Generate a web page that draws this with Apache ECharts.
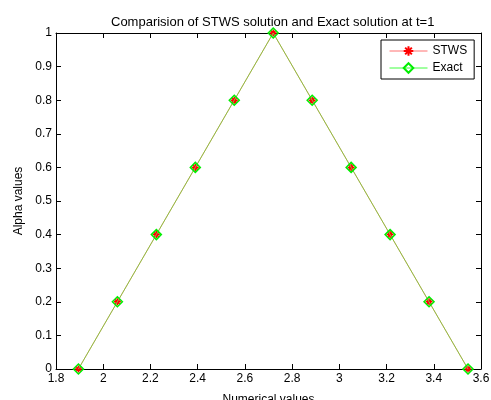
<!DOCTYPE html>
<html><head><meta charset="utf-8">
<script src="https://cdn.jsdelivr.net/npm/echarts@6/dist/echarts.min.js"></script>
<style>html,body{margin:0;padding:0;background:#fff}#c{width:491px;height:400px}</style>
</head><body><div id="c"></div>
<script>
const xValues = [1.895, 2.06, 2.225, 2.39, 2.555, 2.72, 2.885, 3.05, 3.215, 3.38, 3.545];
const stwsAlpha = [0, 0.2, 0.4, 0.6, 0.8, 1, 0.8, 0.6, 0.4, 0.2, 0];
const exactAlpha = [0, 0.2, 0.4, 0.6, 0.8, 1, 0.8, 0.6, 0.4, 0.2, 0];
const titleText = 'Comparision of STWS solution and Exact solution at t=1';
const seriesNames = ['STWS', 'Exact'];
const xLabel = 'Numerical values';
const yLabel = 'Alpha values';

const font = 'Liberation Sans, Arial, sans-serif';
const star = 'path://M5,0 L5,10 M0,5 L10,5 M1.5,1.5 L8.5,8.5 M8.5,1.5 L1.5,8.5';
const chart = echarts.init(document.getElementById('c'), null, {renderer: 'canvas'});
const fmt = v => String(+Number(v).toFixed(1));
const axCommon = {
  axisLine: {show: true, onZero: false, lineStyle: {color: '#000', width: 1}},
  axisTick: {show: true, inside: true, length: 5, lineStyle: {color: '#000'}},
  splitLine: {show: false}
};
chart.setOption({
  animation: false,
  backgroundColor: '#fff',
  title: {text: titleText, left: 106, top: 11,
    textStyle: {fontFamily: font, fontSize: 13, fontWeight: 'normal', color: '#000'}},
  legend: {
    left: 381, top: 40, orient: 'vertical',
    backgroundColor: '#fff', borderColor: '#000', borderWidth: 1,
    padding: [5, 7, 5, 8], itemGap: 5, itemWidth: 38, itemHeight: 12,
    textStyle: {fontFamily: font, fontSize: 12, color: '#000'},
    data: [
      {name: seriesNames[0], lineStyle: {width: 1, color: '#ff7070', opacity: 1}},
      {name: seriesNames[1], lineStyle: {width: 1, color: '#40ff40', opacity: 1}}
    ]
  },
  grid: {left: 56, right: 10, top: 33, bottom: 31, outerBoundsMode: 'none', containLabel: false},
  xAxis: [
    Object.assign({type: 'value', min: 1.8, max: 3.6, interval: 0.2, position: 'bottom',
      name: xLabel, nameLocation: 'middle', nameGap: 25,
      nameTextStyle: {fontFamily: font, fontSize: 12, color: '#000'},
      axisLabel: {formatter: fmt, fontFamily: font, fontSize: 12, color: '#000', margin: 4}}, axCommon),
    Object.assign({type: 'value', min: 1.8, max: 3.6, interval: 0.2, position: 'top',
      axisLabel: {show: false}}, axCommon)
  ],
  yAxis: [
    Object.assign({type: 'value', min: 0, max: 1, interval: 0.1, position: 'left',
      name: yLabel, nameLocation: 'middle', nameGap: 16,
      nameTextStyle: {fontFamily: font, fontSize: 12, color: '#000'},
      axisLabel: {formatter: fmt, fontFamily: font, fontSize: 12, color: '#000', margin: 4}}, axCommon),
    Object.assign({type: 'value', min: 0, max: 1, interval: 0.1, position: 'right',
      axisLabel: {show: false}}, axCommon)
  ],
  series: [
    {name: seriesNames[0], type: 'line', data: xValues.map((x, i) => [x, stwsAlpha[i]]),
      symbol: star, symbolSize: 7, z: 2,
      lineStyle: {color: '#ff0000', width: 1, opacity: 0.3},
      itemStyle: {color: '#ff0000', borderColor: '#ff0000', borderWidth: 1.5}},
    {name: seriesNames[1], type: 'line', data: xValues.map((x, i) => [x, exactAlpha[i]]),
      symbol: 'diamond', symbolSize: 10, z: 3,
      lineStyle: {color: '#8cc040', width: 1, opacity: 1},
      itemStyle: {color: 'rgba(0,0,0,0)', borderColor: '#00ee00', borderWidth: 1.5}}
  ]
});
</script></body></html>
